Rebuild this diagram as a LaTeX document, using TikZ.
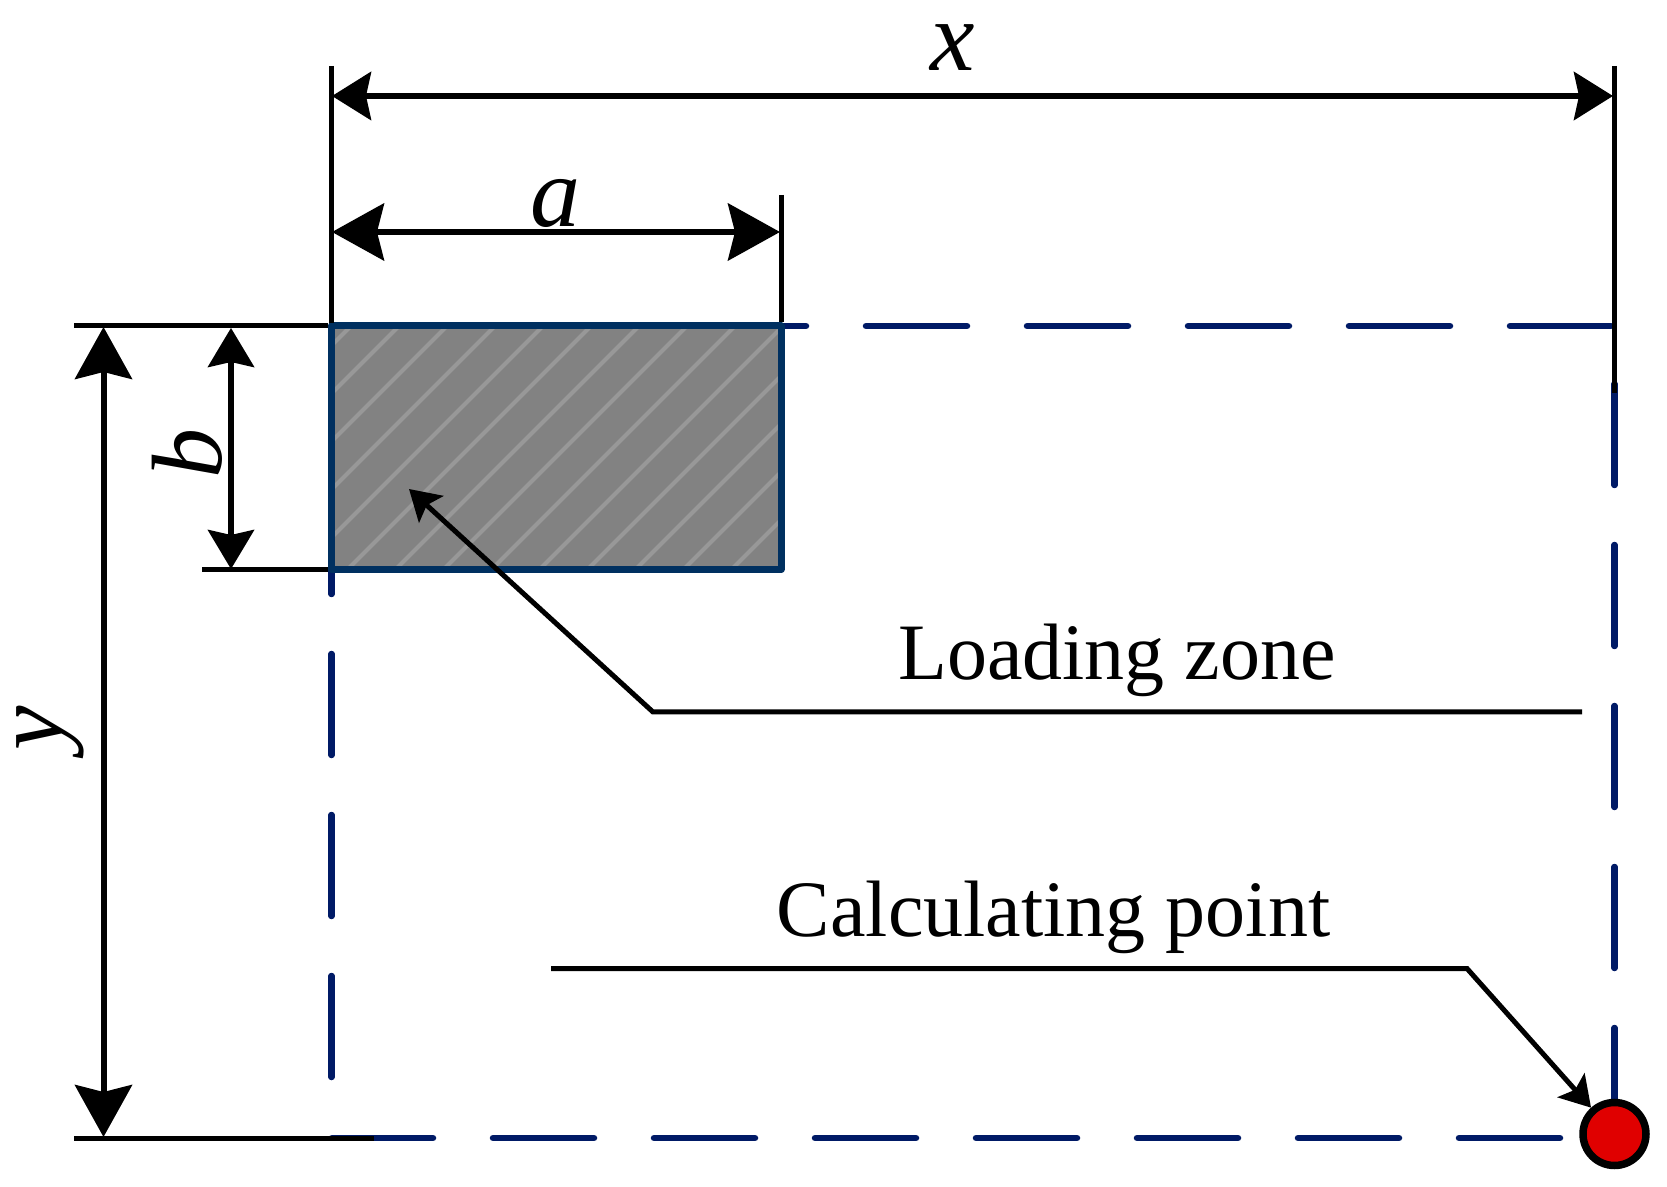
\documentclass[tikz,border=0pt]{standalone}
\usepackage{fontspec}
\setmainfont{Liberation Serif}
\usetikzlibrary{arrows.meta}
\definecolor{zoneedge}{HTML}{003060}
\definecolor{dashblue}{HTML}{001A66}
\definecolor{zonefill}{HTML}{828282}
\definecolor{zonehatch}{HTML}{989898}
\definecolor{pointred}{HTML}{E00000}
\tikzset{
  extline/.style={line width=2.5pt},
  dimline/.style={line width=3pt},
  bigdim/.style={dimline,{Stealth[length=26pt,width=28.5pt,inset=3.5pt]}-{Stealth[length=26pt,width=28.5pt,inset=3.5pt]}},
  smalldim/.style={dimline,{Stealth[length=19.5pt,width=23pt,inset=2.5pt]}-{Stealth[length=19.5pt,width=23pt,inset=2.5pt]}},
  dashline/.style={dashblue,line width=3.25pt,line cap=round,dash pattern=on 50.5pt off 30pt},
  leader/.style={line width=2.5pt,-{Stealth[length=15pt,width=18pt,inset=3pt]}},
  letter/.style={inner sep=0pt,font=\fontsize{50}{60}\selectfont\itshape},
  caption/.style={inner sep=0pt,anchor=base,font=\fontsize{40}{48}\selectfont}
}
\begin{document}
\begin{tikzpicture}[x=.5pt,y=-.5pt]
  \useasboundingbox (0,0) rectangle (1667,1187);
  % corners of the zone
  \coordinate (zoneTL) at (331.5,326);
  \coordinate (zoneBR) at (781,569.5);
  % dashed frame
  \draw[dashline] (705,326) -- (1614,326);
  \draw[dashline] (1614.5,384) -- (1614.5,1130);
  \draw[dashline] (331.5,493) -- (331.5,1082);
  \draw[dashline] (332,1138) -- (1565,1138);
  % loading zone
  \begin{scope}
    \clip (zoneTL) rectangle (zoneBR);
    \fill[zonefill] (zoneTL) rectangle (zoneBR);
    \foreach \s in {677,725,...,1349}
      \draw[zonehatch,line width=2pt] (331,\s-331) -- (781,\s-781);
  \end{scope}
  \draw[zoneedge,line width=3.5pt,line join=round] (zoneTL) rectangle (zoneBR);
  % extension lines
  \draw[extline] (331.5,66) -- (331.5,323);
  \draw[extline] (781,195) -- (781,322);
  \draw[extline] (1614.5,66) -- (1614.5,393);
  \draw[extline] (74,326) -- (328,326);
  \draw[extline] (202,569.5) -- (328,569.5);
  \draw[extline] (74,1138) -- (374,1138);
  % dimensions
  \draw[dimline,{Stealth[length=19.5pt,width=24pt,inset=2.5pt]}-{Stealth[length=19.5pt,width=24pt,inset=2.5pt]}] (332,96) -- (1613,96);
  \draw[bigdim] (332,232) -- (780,232);
  \draw[smalldim] (231,328) -- (231,569);
  \draw[bigdim] (103.5,327) -- (103.5,1137);
  \node[letter] (xlabel) at (953,48) {x};
  \node[letter] (alabel) at (555,203) {a};
  \node[letter,rotate=90] (blabel) at (187,454) {b};
  \node[letter,rotate=90] (ylabel) at (50,728) {y};
  % calculating point
  \node[draw,fill=pointred,circle,line width=3.75pt,minimum size=31.5pt,inner sep=0pt] (calcpoint) at (1614.5,1134) {};
  % leaders and their texts
  \coordinate (zonetip) at (409,489);
  \coordinate (zonebend) at (653,712);
  \coordinate (zoneend) at (1582,712);
  \coordinate (calcstart) at (551,968.5);
  \coordinate (calcbend) at (1467,968.5);
  \draw[leader] (zoneend) -- (zonebend) -- (zonetip);
  \draw[leader] (calcstart) -- (calcbend) -- (calcpoint);
  \node[caption] (zonetext) at (1117,680) {Loading zone};
  \node[caption] (calctext) at (1053.5,936) {Calculating point};
\end{tikzpicture}
\end{document}
